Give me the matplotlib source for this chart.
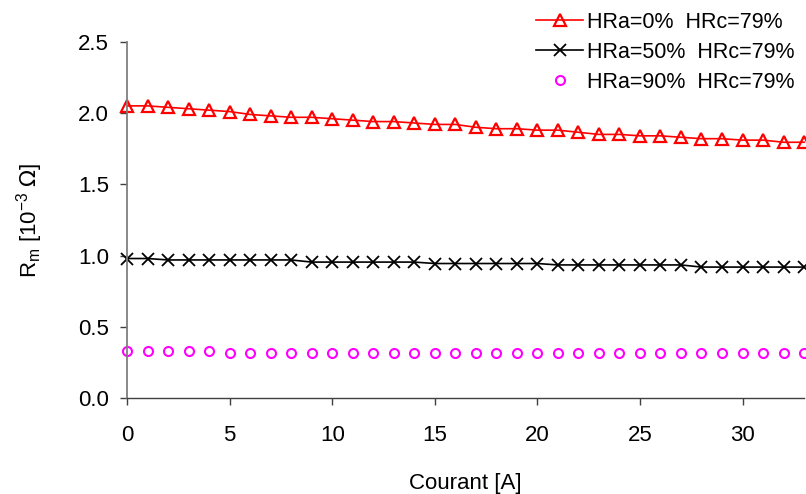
import matplotlib
matplotlib.use("Agg")
import matplotlib.pyplot as plt

plt.rcParams["font.family"] = ["Liberation Sans", "DejaVu Sans"]

# courant [A]
courant = list(range(34))

# Rm [1e-3 ohm]
rm_hra0 = [2.05, 2.05, 2.04, 2.03, 2.02, 2.01, 1.99, 1.98, 1.97, 1.97,
           1.96, 1.95, 1.94, 1.94, 1.93, 1.92, 1.92, 1.90, 1.89, 1.89,
           1.88, 1.88, 1.865, 1.85, 1.85, 1.84, 1.84, 1.83, 1.82, 1.82,
           1.81, 1.81, 1.795, 1.795]
rm_hra50 = [0.98, 0.98, 0.97, 0.97, 0.97, 0.97, 0.97, 0.97, 0.97, 0.955,
            0.955, 0.955, 0.955, 0.955, 0.955, 0.945, 0.945, 0.945, 0.945, 0.945,
            0.945, 0.935, 0.935, 0.935, 0.935, 0.935, 0.935, 0.935, 0.92, 0.92,
            0.92, 0.92, 0.92, 0.92]
rm_hra90 = [0.335, 0.335, 0.335, 0.335, 0.335] + [0.32] * 29

labels = ["HRa=0%  HRc=79%", "HRa=50%  HRc=79%", "HRa=90%  HRc=79%"]
yticks = [0.0, 0.5, 1.0, 1.5, 2.0, 2.5]
xticks = [0, 5, 10, 15, 20, 25, 30]

fig = plt.figure(figsize=(8.06, 4.94), dpi=100)
ax = fig.add_axes([0.1576, 0.1937, 0.84, 0.7219])

ax.plot(courant, rm_hra0, color="red", lw=1.2, marker="^", ms=8,
        mfc="none", mec="red", mew=1.6, label=labels[0], clip_on=False)
ax.plot(courant, rm_hra50, color="black", lw=1.2, marker="x", ms=8,
        mew=1.3, label=labels[1], clip_on=False)
ax.plot(courant, rm_hra90, color="magenta", lw=0, marker="o", ms=6.5,
        mfc="none", mec="magenta", mew=1.5, label=labels[2], clip_on=False)

ax.set_xlim(0, 33)
ax.set_ylim(0, 2.5)
ax.set_xticks(xticks)
ax.set_yticks(yticks)
ax.set_yticklabels([f"{v:.1f}" for v in yticks])

for s in ["top", "right"]:
    ax.spines[s].set_visible(False)
ax.spines["left"].set_color("#7f7f7f")
ax.spines["left"].set_linewidth(1.3)
ax.spines["bottom"].set_color("#404040")
ax.spines["bottom"].set_linewidth(1.0)
ax.tick_params(direction="out", length=5, width=1, colors="#404040",
               labelsize=16, labelcolor="black")
ax.tick_params(axis="x", pad=14)
ax.tick_params(axis="y", pad=8)

ax.set_xlabel("Courant [A]", fontsize=16, labelpad=20)
ax.set_ylabel(r"R$_{\mathregular{m}}$ [10$^{\mathregular{-3}}$ $\Omega$]",
              fontsize=16, labelpad=24)

fig.legend(loc="upper right", bbox_to_anchor=(1.0, 1.0), frameon=False,
           fontsize=15.5, handlelength=2.2, handletextpad=0.15,
           labelspacing=0.42, borderaxespad=0.15)

fig.savefig("out.png", dpi=100)
